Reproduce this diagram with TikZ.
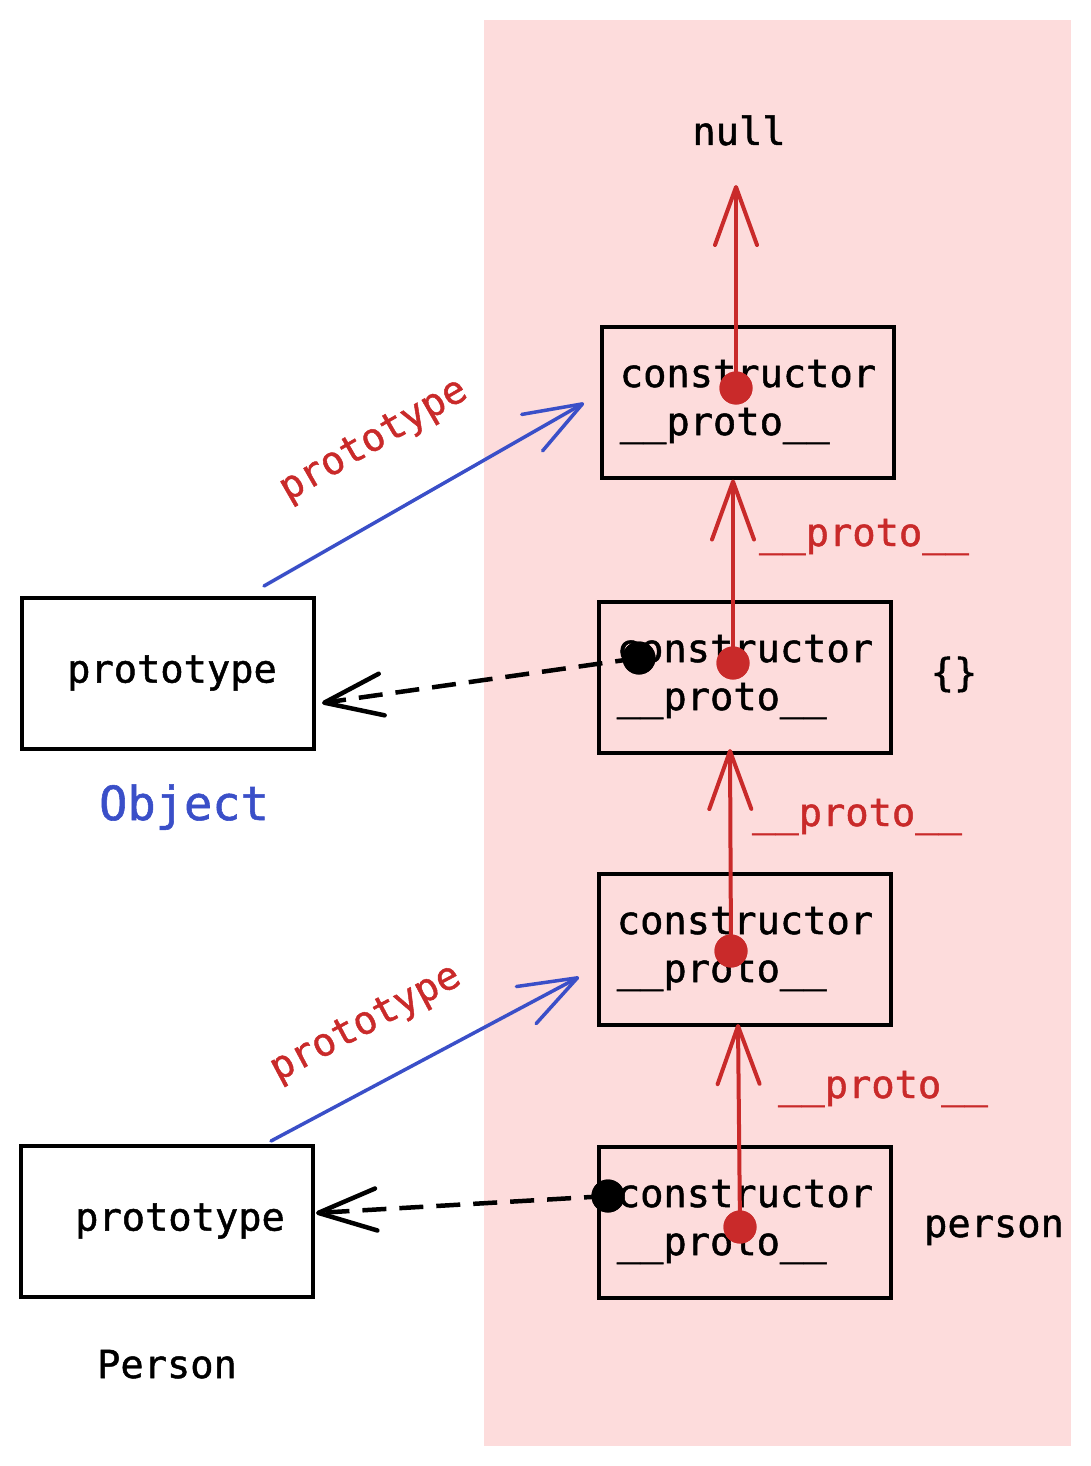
\documentclass[tikz,border=0pt]{standalone}
\usepackage{fontspec}
\setmainfont{DejaVu Sans Mono}[BoldFont=DejaVu Sans Mono, BoldFeatures={FakeBold=1.2}]
\usetikzlibrary{arrows.meta,calc}
\definecolor{cred}{RGB}{201,42,42}
\definecolor{cblue}{RGB}{58,79,200}
\definecolor{cpink}{RGB}{253,220,220}
\tikzset{
  objbox/.style={draw=black, line width=4pt, minimum width=292pt, minimum height=151pt, inner sep=0pt, align=left,
    font=\fontsize{38.7pt}{48pt}\selectfont\bfseries},
  lbl/.style={inner sep=0pt, anchor=base, font=\fontsize{38.7pt}{48pt}\selectfont\bfseries},
  barb/.tip={Straight Barb[length=58pt,width=42pt,line cap=round,line join=round]},
  protoarr/.style={draw=cred, line width=4pt, line cap=round, -barb},
  protolink/.style={draw=cblue, line width=3.5pt, line cap=round, -barb},
  ctorlink/.style={draw=black, line width=4.5pt, dash pattern=on 24pt off 13pt, -barb},
  reddot/.style={circle, fill=cred, minimum size=33pt, inner sep=0pt},
  blackdot/.style={circle, fill=black, minimum size=33pt, inner sep=0pt},
}
\begin{document}
\begin{tikzpicture}[x=1pt,y=-1pt]
\useasboundingbox (0,0) rectangle (1091,1466);
\fill[cpink] (484,20) rectangle (1071,1446);

% boxes
\node[objbox] (b1) at (748,402) {constructor\\\_\_proto\_\_};
\node[objbox] (b2) at (745,677) {constructor\\\_\_proto\_\_};
\node[objbox] (b3) at (745,949) {constructor\\\_\_proto\_\_};
\node[objbox] (b4) at (745,1222) {constructor\\\_\_proto\_\_};
\node[objbox, align=center] (ob) at (168,673) {\hspace*{8pt}prototype};
\node[objbox, align=center] (pb) at (167,1221) {\hspace*{26pt}prototype};

% labels
\node[lbl] (null) at (739,145) {null};
\node[lbl, text=cblue, font=\fontsize{47pt}{56pt}\selectfont\bfseries] (objlbl) at (184,820) {Object};
\node[lbl] (perslbl) at (167,1378) {Person};
\node[lbl] (plbl) at (994,1237) {person};
\node[lbl] (brlbl) at (954,686) {\{\}};
\node[lbl, text=cred] (pl1) at (864,546) {\_\_proto\_\_};
\node[lbl, text=cred] (pl2) at (857,826) {\_\_proto\_\_};
\node[lbl, text=cred] (pl3) at (883,1098) {\_\_proto\_\_};
\node[text=cred, inner sep=0pt, rotate=30, font=\fontsize{38.7pt}{48pt}\selectfont\bfseries] (pt1) at (374,441) {prototype};
\node[text=cred, inner sep=0pt, rotate=28, font=\fontsize{38.7pt}{48pt}\selectfont\bfseries] (pt2) at (366,1024) {prototype};

% dots
\node[reddot] (d1) at (736,388) {};
\node[reddot] (d2) at (733,663) {};
\node[reddot] (d3) at (731,951) {};
\node[reddot] (d4) at (740,1227) {};
\node[blackdot] (k2) at (639,658) {};
\node[blackdot] (k4) at (608,1196) {};

% coordinates for arrow ends
\coordinate (nulltip) at (736,185);
\coordinate (oblink) at (322,703);
\coordinate (pblink) at (316,1213);
\coordinate (obstart) at (264,586);
\coordinate (pbstart) at (271,1141);
\coordinate (b1in) at (584,403);
\coordinate (b3in) at (579,977);

% __proto__ chain
\draw[protoarr] (d1.center) -- (nulltip);
\draw[protoarr] (d2.center) -- (d2 |- b1.south);
\draw[protoarr] (d3.center) -- (730,749);
\draw[protoarr] (d4.center) -- (738,1024);

% prototype links
\draw[protolink] (obstart) -- (b1in);
\draw[protolink] (pbstart) -- (b3in);

% constructor links
\draw[ctorlink] (k2.center) -- (oblink);
\draw[ctorlink] (k4.center) -- (pblink);

% redraw dots on top
\node[reddot] at (d1) {};
\node[reddot] at (d2) {};
\node[reddot] at (d3) {};
\node[reddot] at (d4) {};
\node[blackdot] at (k2) {};
\node[blackdot] at (k4) {};
\end{tikzpicture}
\end{document}
